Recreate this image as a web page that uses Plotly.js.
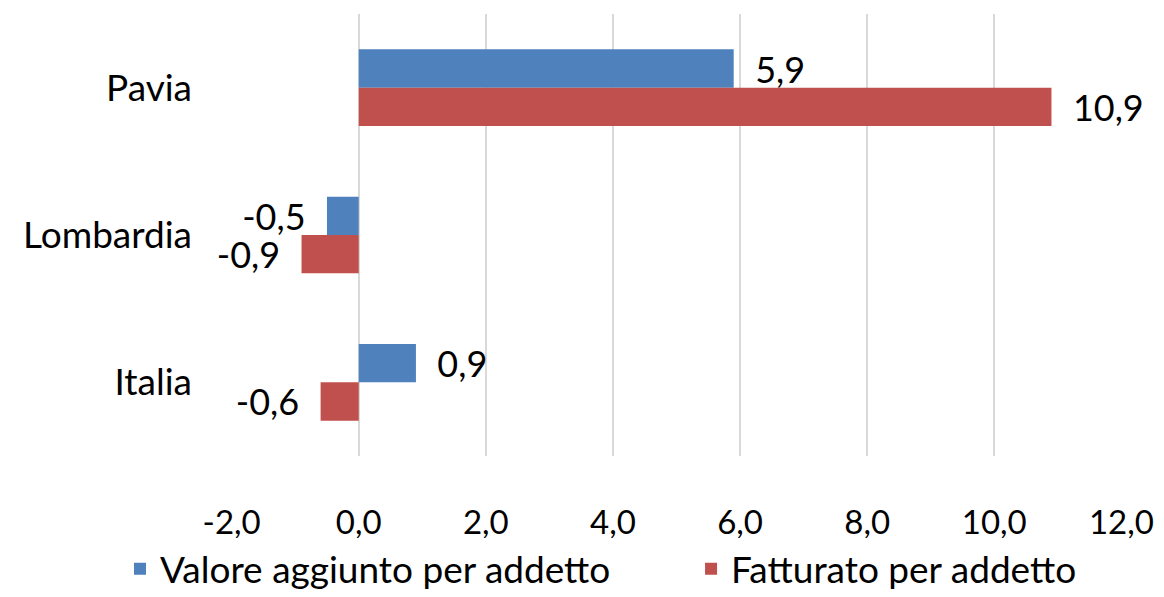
<!DOCTYPE html>
<html>
<head>
<meta charset="utf-8">
<script src="https://cdn.plot.ly/plotly-3.0.1.min.js"></script>
<style>
  html, body { margin: 0; padding: 0; background: #ffffff; }
  #grafico { width: 1164px; height: 597px; }
</style>
</head>
<body>
<div id="grafico"></div>
<script>
// Variazioni per territorio
let territori = ["Pavia", "Lombardia", "Italia"];
let valoreAggiunto = [5.9, -0.5, 0.9];
let fatturato = [10.9, -0.9, -0.6];
let tickValori = [-2, 0, 2, 4, 6, 8, 10, 12];
let tickEtichette = ["-2,0", "0,0", "2,0", "4,0", "6,0", "8,0", "10,0", "12,0"];

let fontFamily = "Lato, 'Open Sans', sans-serif";
let nbsp = "\u00a0";

// etichetta con virgola decimale, staccata un po' dalla barra
function formatta(v) {
  let s = v.toFixed(1).replace(".", ",");
  return v >= 0 ? nbsp + nbsp + s : s + nbsp + nbsp;
}

let trace1 = {
  y: territori,
  x: valoreAggiunto,
  // spazi finali per distanziare le due voci della legenda
  name: "Valore aggiunto per addetto" + nbsp.repeat(8),
  type: "bar",
  orientation: "h",
  text: valoreAggiunto.map(formatta),
  textposition: "outside",
  constraintext: "none",
  cliponaxis: false,
  textfont: {size: 36, color: "#000000", family: fontFamily},
  marker: {color: "#4F81BD", line: {width: 0}}
};

let trace2 = {
  y: territori,
  x: fatturato,
  name: "Fatturato per addetto",
  type: "bar",
  orientation: "h",
  text: fatturato.map(formatta),
  textposition: "outside",
  constraintext: "none",
  cliponaxis: false,
  textfont: {size: 36, color: "#000000", family: fontFamily},
  marker: {color: "#C0504D", line: {width: 0}}
};

let layout = {
  width: 1164,
  height: 597,
  // niente espansione automatica: la legenda resta dove la metto
  margin: {l: 231, r: 42, t: 14, b: 141, autoexpand: false},
  paper_bgcolor: "#ffffff",
  plot_bgcolor: "#ffffff",
  font: {family: fontFamily, size: 36, color: "#000000"},
  barmode: "group",
  bargap: 0.48,
  bargroupgap: 0,
  xaxis: {
    range: [-2.01, 12.01],
    tickvals: tickValori,
    ticktext: tickEtichette,
    showgrid: true,
    gridcolor: "#d9d9d9",
    gridwidth: 1.5,
    zeroline: false,
    showline: false,
    ticks: "",
    ticklabelstandoff: 44,
    tickfont: {size: 33}
  },
  yaxis: {
    autorange: "reversed",
    showgrid: false,
    zeroline: false,
    showline: false,
    ticks: "",
    ticklabelstandoff: 38,
    tickfont: {size: 37}
  },
  showlegend: true,
  legend: {
    orientation: "h",
    x: -0.1246,
    xanchor: "left",
    y: -0.256,
    yanchor: "middle",
    font: {size: 37}
  }
};

let config = {responsive: false, displayModeBar: false};
Plotly.newPlot("grafico", [trace1, trace2], layout, config);
</script>
</body>
</html>
